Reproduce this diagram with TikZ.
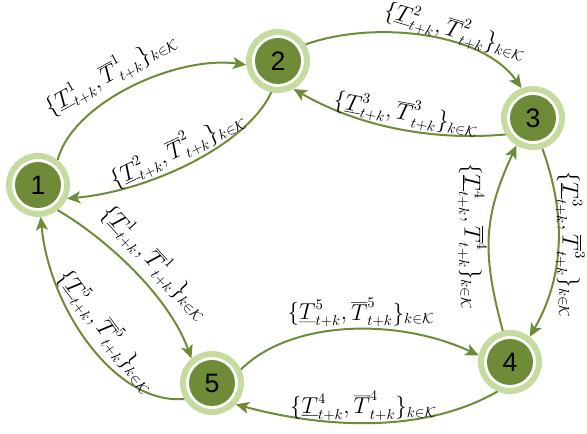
\documentclass[tikz,border=0pt]{standalone}
\usepackage{fontspec}
\newfontfamily\numfont{Liberation Sans}
\usetikzlibrary{arrows.meta}
\definecolor{gdark}{RGB}{110,140,56}
\definecolor{glight}{RGB}{197,219,160}
\newcommand{\lbl}[1]{$\{\underline{T}^{#1}_{t+k},\overline{T}^{#1}_{t+k}\}_{k\in\mathcal{K}}$}
\begin{document}
\begin{tikzpicture}[x=0.75pt,y=0.75pt,
  state/.style={circle, minimum size=43.5pt, inner sep=0pt, draw=glight,
    line width=4.5pt, fill=white,
    path picture={\fill[gdark] (path picture bounding box.center) circle (17.25pt);},
    font=\numfont\fontsize{20}{20}\selectfont},
  edge/.style={draw=gdark, line width=1.5pt, -{Stealth[length=10pt,width=9pt,inset=2.5pt]}},
  lab/.style={font=\fontsize{16}{18}\selectfont, inner sep=1pt}]
\useasboundingbox (0,0) rectangle (587,434);
\node[state] (n1) at (38,249) {1};
\node[state] (n2) at (278,373) {2};
\node[state] (n3) at (533,316) {3};
\node[state] (n4) at (510,72) {4};
\node[state] (n5) at (212,51) {5};
% 1 -> 2
\draw[edge] (n1.52) .. controls +(75:60) and +(172:70) .. (n2.187)
  node[lab, pos=0.45, sloped, above=4pt] {\lbl{1}};
% 2 -> 1
\draw[edge] (n2.258) .. controls +(245:60) and +(5:80) .. (n1.335)
  node[lab, pos=0.52, sloped, above=1pt] {\lbl{2}};
% 2 -> 3
\draw[edge] (n2.31) .. controls +(20:70) and +(125:70) .. (n3.111)
  node[lab, pos=0.62, sloped, above=-3pt] {\lbl{2}};
% 3 -> 2
\draw[edge] (n3.211) .. controls +(185:80) and +(330:70) .. (n2.299)
  node[lab, pos=0.45, sloped, above] {\lbl{3}};
% 3 -> 4
\draw[edge] (n3.287) .. controls +(290:70) and +(60:70) .. (n4.52)
  coordinate[pos=0.5] (c34);
\node[lab, rotate=-90, anchor=south] at ([xshift=-3pt]c34) {\lbl{3}};
% 4 -> 3
\draw[edge] (n4.103) .. controls +(105:80) and +(245:80) .. (n3.239)
  node[lab, pos=0.5, rotate=-90, anchor=north] {\lbl{4}};
% 4 -> 5
\draw[edge] (n4.247) .. controls +(210:80) and +(345:100) .. (n5.318)
  node[lab, pos=0.55, sloped, above] {\lbl{4}};
% 5 -> 4
\draw[edge] (n5.25) .. controls +(45:70) and +(155:90) .. (n4.168)
  node[lab, pos=0.55, sloped, above] {\lbl{5}};
% 1 -> 5
\draw[edge] (n1.308) .. controls +(330:50) and +(110:70) .. (n5.130)
  node[lab, pos=0.55, sloped, above=4pt] {\lbl{1}};
% 5 -> 1
\draw[edge] (n5.210) .. controls +(185:70) and +(275:90) .. (n1.275)
  node[lab, pos=0.5, sloped, above=4pt] {\lbl{5}};
\end{tikzpicture}
\end{document}
